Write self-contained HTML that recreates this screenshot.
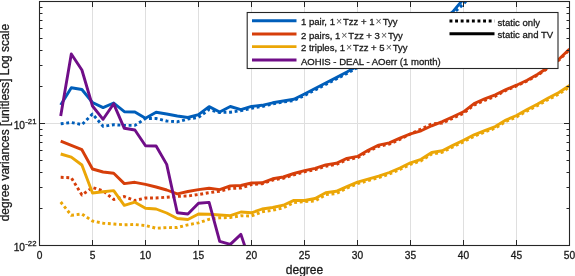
<!DOCTYPE html><html><head><meta charset="utf-8"><style>html,body{margin:0;padding:0;background:#fff;width:575px;height:276px;overflow:hidden}svg{display:block}text{font-family:"Liberation Sans",Arial,Helvetica,sans-serif;fill:#1a1a1a;stroke:#1a1a1a;stroke-width:0.3px}</style></head><body>
<svg width="575" height="276" viewBox="0 0 575 276">
<defs><clipPath id="ax"><rect x="39.5" y="1.5" width="530" height="244"/></clipPath></defs>
<path d="M92.5 1.5V245.5M145.5 1.5V245.5M198.5 1.5V245.5M251.5 1.5V245.5M304.5 1.5V245.5M357.5 1.5V245.5M410.5 1.5V245.5M463.5 1.5V245.5M516.5 1.5V245.5M39.5 123.5H569.5" stroke="#dfdfdf" stroke-width="1" fill="none"/>
<g clip-path="url(#ax)">
<polyline points="60.7,123.8 71.3,122.5 81.9,124.6 92.5,114.0 103.1,126.3 113.7,124.7 124.3,125.4 134.9,125.4 145.5,118.5 156.1,118.5 166.7,121.0 177.3,121.8 187.9,119.0 198.5,117.5 209.1,109.5 219.7,112.5 230.3,112.2 240.9,110.7 251.5,108.3 262.1,106.5 272.7,104.0 283.3,102.0 293.9,100.5 304.5,95.5 315.1,90.0 325.7,84.5 336.3,79.0 346.9,73.5 357.5,67.5 368.1,61.5 378.7,55.0 389.3,48.5 399.9,42.5 410.5,36.5 421.1,30.5 431.7,28.5 442.3,22.0 452.9,13.5 463.5,4.0 474.1,-8.0 484.7,-20.0" fill="none" stroke="#005EBA" stroke-width="2.9" stroke-linejoin="round" stroke-dasharray="2.9 2.7"/>
<polyline points="60.7,177.3 71.3,177.8 81.9,195.0 92.5,187.5 103.1,190.8 113.7,199.5 124.3,196.5 134.9,200.5 145.5,198.0 156.1,198.0 166.7,197.2 177.3,196.3 187.9,196.0 198.5,194.5 209.1,192.7 219.7,191.2 230.3,188.5 240.9,188.0 251.5,184.6 262.1,183.8 272.7,180.1 283.3,178.3 293.9,174.8 304.5,171.9 315.1,169.6 325.7,166.2 336.3,164.5 346.9,159.7 357.5,157.7 368.1,151.5 378.7,146.4 389.3,144.1 399.9,139.4 410.5,134.0 421.1,129.0 431.7,124.0 442.3,123.1 452.9,118.2 463.5,113.3 474.1,105.1 484.7,100.3 495.3,96.3 505.9,90.4 516.5,86.0 527.1,81.0 537.7,75.1 548.3,68.0 558.9,60.1 569.5,49.8" fill="none" stroke="#D63E0A" stroke-width="2.9" stroke-linejoin="round" stroke-dasharray="2.9 2.7"/>
<polyline points="60.7,202.0 71.3,215.3 81.9,214.0 92.5,221.0 103.1,223.2 113.7,224.0 124.3,224.8 134.9,224.5 145.5,225.6 156.1,228.2 166.7,227.6 177.3,227.5 187.9,224.8 198.5,222.8 209.1,219.3 219.7,217.8 230.3,217.5 240.9,215.8 251.5,216.0 262.1,211.8 272.7,210.3 283.3,207.8 293.9,202.7 304.5,201.6 315.1,201.0 325.7,194.7 336.3,193.5 346.9,188.1 357.5,183.7 368.1,180.7 378.7,177.7 389.3,174.0 399.9,169.5 410.5,164.3 421.1,160.8 431.7,154.0 442.3,152.3 452.9,146.9 463.5,141.8 474.1,136.3 484.7,132.1 495.3,128.1 505.9,121.5 516.5,117.0 527.1,111.0 537.7,105.5 548.3,99.5 558.9,94.0 569.5,87.0" fill="none" stroke="#EBA606" stroke-width="2.9" stroke-linejoin="round" stroke-dasharray="2.9 2.7"/>
<polyline points="60.7,105.0 71.3,87.7 81.9,89.5 92.5,102.5 103.1,107.6 113.7,103.0 124.3,111.7 134.9,112.0 145.5,118.2 156.1,112.2 166.7,114.0 177.3,116.0 187.9,117.5 198.5,114.6 209.1,106.6 219.7,112.0 230.3,106.5 240.9,109.7 251.5,106.4 262.1,105.3 272.7,102.8 283.3,101.0 293.9,99.3 304.5,94.0 315.1,88.5 325.7,83.0 336.3,77.6 346.9,72.0 357.5,66.0 368.1,60.0 378.7,53.5 389.3,47.0 399.9,41.0 410.5,35.0 421.1,29.0 431.7,27.0 442.3,20.0 452.9,11.6 463.5,-1.0 474.1,-13.0 484.7,-25.0" fill="none" stroke="#005EBA" stroke-width="2.9" stroke-linejoin="round"/>
<polyline points="60.7,141.2 71.3,145.4 81.9,149.7 92.5,169.0 103.1,172.0 113.7,173.2 124.3,183.6 134.9,182.3 145.5,184.3 156.1,187.0 166.7,190.0 177.3,193.8 187.9,191.5 198.5,189.6 209.1,188.2 219.7,189.6 230.3,185.9 240.9,185.5 251.5,183.0 262.1,182.8 272.7,178.8 283.3,177.0 293.9,173.5 304.5,170.6 315.1,168.3 325.7,164.9 336.3,163.2 346.9,158.4 357.5,156.4 368.1,150.2 378.7,145.1 389.3,142.8 399.9,138.1 410.5,133.8 421.1,130.8 431.7,125.8 442.3,121.6 452.9,116.7 463.5,111.8 474.1,103.6 484.7,98.8 495.3,94.8 505.9,89.6 516.5,85.2 527.1,80.2 537.7,74.3 548.3,67.2 558.9,59.3 569.5,49.0" fill="none" stroke="#D63E0A" stroke-width="2.9" stroke-linejoin="round"/>
<polyline points="60.7,154.0 71.3,157.2 81.9,165.0 92.5,193.0 103.1,191.8 113.7,190.6 124.3,205.3 134.9,202.2 145.5,208.2 156.1,209.0 166.7,213.0 177.3,218.5 187.9,219.5 198.5,214.0 209.1,214.2 219.7,215.0 230.3,215.6 240.9,212.0 251.5,212.8 262.1,209.0 272.7,207.5 283.3,205.2 293.9,200.4 304.5,200.5 315.1,198.5 325.7,192.8 336.3,191.3 346.9,186.6 357.5,182.2 368.1,179.2 378.7,176.2 389.3,172.5 399.9,168.0 410.5,162.8 421.1,159.3 431.7,152.5 442.3,150.8 452.9,145.4 463.5,140.3 474.1,134.8 484.7,130.6 495.3,126.6 505.9,120.0 516.5,115.5 527.1,109.5 537.7,104.0 548.3,98.0 558.9,92.5 569.5,85.5" fill="none" stroke="#EBA606" stroke-width="2.9" stroke-linejoin="round"/>
<polyline points="60.7,116.0 71.3,54.0 81.9,70.0 92.5,106.0 103.1,119.3 113.7,103.8 124.3,128.3 134.9,130.0 145.5,145.8 156.1,146.0 166.7,164.4 177.3,212.8 187.9,214.0 198.5,203.2 209.1,202.4 219.7,241.3 230.3,244.4 240.9,234.4 251.5,266.0" fill="none" stroke="#700E88" stroke-width="2.9" stroke-linejoin="round"/>
</g>
<path d="M39.5 245.5v-5.5M39.5 1.5v5.5M92.5 245.5v-5.5M92.5 1.5v5.5M145.5 245.5v-5.5M145.5 1.5v5.5M198.5 245.5v-5.5M198.5 1.5v5.5M251.5 245.5v-5.5M251.5 1.5v5.5M304.5 245.5v-5.5M304.5 1.5v5.5M357.5 245.5v-5.5M357.5 1.5v5.5M410.5 245.5v-5.5M410.5 1.5v5.5M463.5 245.5v-5.5M463.5 1.5v5.5M516.5 245.5v-5.5M516.5 1.5v5.5M569.5 245.5v-5.5M569.5 1.5v5.5M39.5 245.5h5.5M569.5 245.5h-5.5M39.5 208.5h3.0M569.5 208.5h-3.0M39.5 187.5h3.0M569.5 187.5h-3.0M39.5 172.5h3.0M569.5 172.5h-3.0M39.5 160.5h3.0M569.5 160.5h-3.0M39.5 150.5h3.0M569.5 150.5h-3.0M39.5 142.5h3.0M569.5 142.5h-3.0M39.5 135.5h3.0M569.5 135.5h-3.0M39.5 129.5h3.0M569.5 129.5h-3.0M39.5 123.5h5.5M569.5 123.5h-5.5M39.5 86.5h3.0M569.5 86.5h-3.0M39.5 65.5h3.0M569.5 65.5h-3.0M39.5 50.5h3.0M569.5 50.5h-3.0M39.5 38.5h3.0M569.5 38.5h-3.0M39.5 28.5h3.0M569.5 28.5h-3.0M39.5 20.5h3.0M569.5 20.5h-3.0M39.5 13.5h3.0M569.5 13.5h-3.0M39.5 7.5h3.0M569.5 7.5h-3.0" stroke="#262626" stroke-width="1" fill="none"/>
<rect x="39.5" y="1.5" width="530" height="244" fill="none" stroke="#262626" stroke-width="1.1"/>
<text x="39.5" y="259" font-size="10.2" text-anchor="middle">0</text><text x="92.5" y="259" font-size="10.2" text-anchor="middle">5</text><text x="145.5" y="259" font-size="10.2" text-anchor="middle">10</text><text x="198.5" y="259" font-size="10.2" text-anchor="middle">15</text><text x="251.5" y="259" font-size="10.2" text-anchor="middle">20</text><text x="304.5" y="259" font-size="10.2" text-anchor="middle">25</text><text x="357.5" y="259" font-size="10.2" text-anchor="middle">30</text><text x="410.5" y="259" font-size="10.2" text-anchor="middle">35</text><text x="463.5" y="259" font-size="10.2" text-anchor="middle">40</text><text x="516.5" y="259" font-size="10.2" text-anchor="middle">45</text><text x="569.5" y="259" font-size="10.2" text-anchor="middle">50</text><text x="304.5" y="274.1" font-size="12" text-anchor="middle">degree</text><text x="25" y="251.2" font-size="10.2" text-anchor="end">10</text><text x="25.3" y="246.4" font-size="7.7">-22</text><text x="25" y="129.2" font-size="10.2" text-anchor="end">10</text><text x="25.3" y="124.4" font-size="7.7">-21</text><text transform="translate(9.3,122.6) rotate(-90)" font-size="12" text-anchor="middle">degree variances [unitless] Log scale</text>
<rect x="247.2" y="12.5" width="310.8" height="56" fill="#fff" stroke="#262626" stroke-width="1.1"/><path d="M252 20.8H296.5" stroke="#005EBA" stroke-width="2.9"/><text x="301" y="25.4" font-size="9.55">1 pair, 1<tspan dx="1" font-size="10.5" fill="#555" stroke="none">×</tspan><tspan dx="0.9">Tzz</tspan> + 1<tspan dx="1" font-size="10.5" fill="#555" stroke="none">×</tspan><tspan dx="0.9">Tyy</tspan></text><path d="M252 34.0H296.5" stroke="#D63E0A" stroke-width="2.9"/><text x="301" y="38.6" font-size="9.55">2 pairs, 1<tspan dx="1" font-size="10.5" fill="#555" stroke="none">×</tspan><tspan dx="0.9">Tzz</tspan> + 3<tspan dx="1" font-size="10.5" fill="#555" stroke="none">×</tspan><tspan dx="0.9">Tyy</tspan></text><path d="M252 46.6H296.5" stroke="#EBA606" stroke-width="2.9"/><text x="301" y="51.2" font-size="9.55">2 triples, 1<tspan dx="1" font-size="10.5" fill="#555" stroke="none">×</tspan><tspan dx="0.9">Tzz</tspan> + 5<tspan dx="1" font-size="10.5" fill="#555" stroke="none">×</tspan><tspan dx="0.9">Tyy</tspan></text><path d="M252 60.0H296.5" stroke="#700E88" stroke-width="2.9"/><text x="301" y="64.6" font-size="9.55">AOHIS - DEAL - AOerr (1 month)</text><path d="M449.5 21H494.5" stroke="#000" stroke-width="2.9" stroke-dasharray="2.9 2.7"/><text x="497.6" y="25.6" font-size="9.55">static only</text><path d="M449.5 33.7H494.5" stroke="#000" stroke-width="2.9"/><text x="497.6" y="38.3" font-size="9.55">static and TV</text>
</svg></body></html>
